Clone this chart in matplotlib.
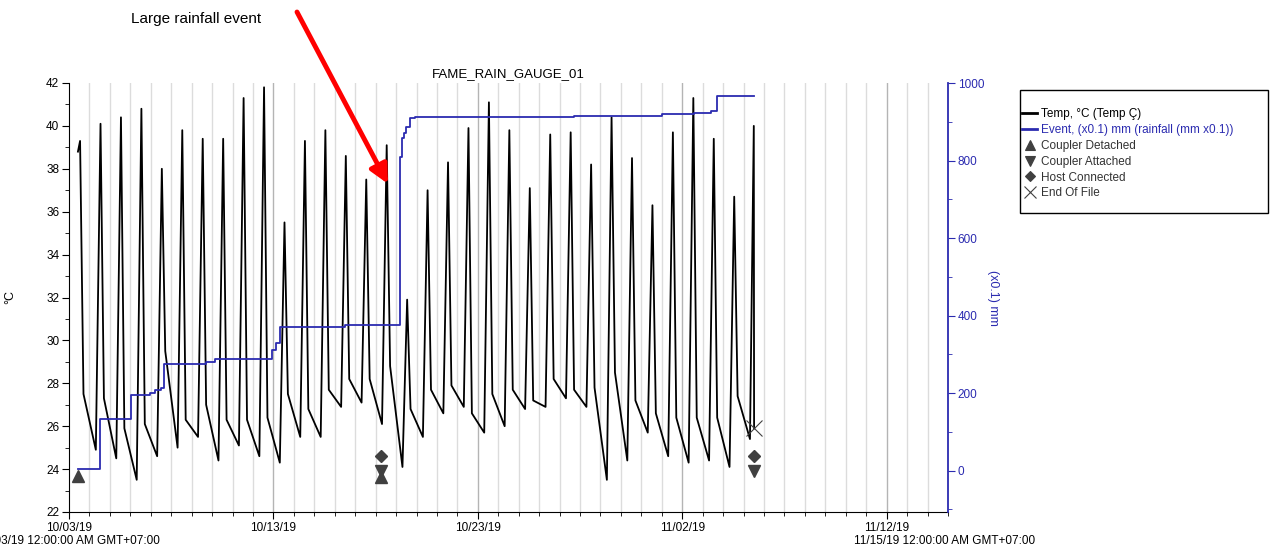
import matplotlib
matplotlib.use('Agg')
import matplotlib.pyplot as plt
import matplotlib.dates as mdates
from matplotlib.lines import Line2D
from matplotlib.patches import Rectangle
import pandas as pd

plt.rcParams['font.family'] = ['Liberation Sans', 'DejaVu Sans']

BLUE = '#2b2bb0'
MARK = '#404040'

# temperature (deg C)
first_time, first_temp = '2019-10-03 10:30', 38.8
day_peak = [39.3, 40.1, 40.4, 40.8, 38.0, 39.8, 39.4, 39.4, 41.3, 41.8,
            35.5, 39.3, 39.8, 38.6, 37.5, 39.1, 31.9, 37.0, 38.3, 39.9,
            41.1, 39.8, 37.1, 39.6, 39.7, 38.2, 40.4, 38.5, 36.3, 39.7,
            41.3, 39.4, 36.7, 40.0]
eve_temp = [27.5, 27.3, 25.9, 26.1, 29.5, 26.3, 27.0, 26.3, 26.3, 26.4,
            27.5, 26.8, 27.7, 28.2, 28.2, 28.8, 26.8, 27.7, 27.9, 26.6,
            27.5, 27.7, 27.2, 28.2, 27.7, 27.8, 28.5, 27.2, 26.6, 26.4,
            26.4, 26.4, 27.4]
morning_low = [24.9, 24.5, 23.5, 24.6, 25.0, 25.5, 24.4, 25.1, 24.6, 24.3,
               25.5, 25.5, 26.9, 27.1, 26.1, 24.1, 25.5, 26.6, 26.9, 25.7,
               26.0, 26.8, 26.9, 27.3, 26.9, 23.5, 24.4, 25.7, 24.6, 24.3,
               24.4, 24.1, 25.4]
last_time, last_temp = '2019-11-05 12:20', 25.9

# rainfall event count, cumulative (x0.1 mm)
rain_time = ['2019-10-03 10:30', '2019-10-04 12:30', '2019-10-06 00:45',
             '2019-10-06 23:00', '2019-10-07 05:00', '2019-10-07 12:00',
             '2019-10-07 15:30', '2019-10-09 17:00', '2019-10-10 03:30',
             '2019-10-12 22:00', '2019-10-13 03:00', '2019-10-13 07:45',
             '2019-10-16 12:00', '2019-10-19 04:30', '2019-10-19 06:30',
             '2019-10-19 09:00', '2019-10-19 12:00', '2019-10-19 16:00',
             '2019-10-19 22:00', '2019-10-27 17:00', '2019-11-01 00:00',
             '2019-11-02 14:00', '2019-11-03 09:30', '2019-11-03 16:30',
             '2019-11-05 12:20']
rain_total = [5, 134, 196, 201, 207, 214, 276, 280, 289, 310, 328, 370,
              375, 809, 858, 871, 886, 910, 913, 915, 920, 923, 927, 966,
              966]

# logger events
event_names = ['Coupler Detached', 'Host Connected', 'Coupler Attached',
               'Coupler Detached', 'End Of File', 'Host Connected',
               'Coupler Attached']
event_time = ['2019-10-03 10:30', '2019-10-18 06:20', '2019-10-18 06:20',
              '2019-10-18 06:20', '2019-11-05 12:20', '2019-11-05 12:20',
              '2019-11-05 12:20']
event_temp = [23.7, 24.6, 23.92, 23.62, 25.9, 24.6, 23.9]
event_marker = {'Coupler Detached': '^', 'Coupler Attached': 'v',
                'Host Connected': 'D', 'End Of File': 'x'}

# build the temperature trace
days = pd.date_range('2019-10-03', periods=len(day_peak), freq='D')
t_times = [pd.Timestamp(first_time)]
t_vals = [first_temp]
for i, day in enumerate(days):
    if i > 0:
        t_times.append(day + pd.Timedelta(hours=7.5))
        t_vals.append(morning_low[i - 1])
    if i < len(eve_temp):
        t_times.append(day + pd.Timedelta(hours=13))
        t_vals.append(day_peak[i])
        t_times.append(day + pd.Timedelta(hours=17))
        t_vals.append(eve_temp[i])
    else:
        t_times.append(day + pd.Timedelta(hours=12))
        t_vals.append(day_peak[i])
t_times.append(pd.Timestamp(last_time))
t_vals.append(last_temp)

fig = plt.figure(figsize=(12.72, 5.5), dpi=100)
ax = fig.add_axes([69 / 1272, 1 - 512 / 550, 879 / 1272, 429 / 550])
ax2 = ax.twinx()

x0 = pd.Timestamp('2019-10-03')
x1 = pd.Timestamp('2019-11-15')

# day grid
for d in pd.date_range(x0, x1, freq='D')[1:-1]:
    major = (d - x0).days % 10 == 0
    ax.axvline(d, color='#b4b4b4' if major else '#dcdcdc', lw=1, zorder=0)

ax.plot(t_times, t_vals, color='black', lw=1.3, zorder=3)
ax2.step(pd.to_datetime(rain_time), rain_total, where='post', color=BLUE, lw=1.3)

for name, t, v in zip(event_names, event_time, event_temp):
    m = event_marker[name]
    ax.plot(pd.Timestamp(t), v, ls='none', marker=m, color=MARK,
            ms=11 if m == 'x' else (6 if m == 'D' else 8),
            mew=0.8 if m == 'x' else 1, zorder=4)

ax.set_xlim(x0, x1)
ax.set_ylim(22, 42)
ax2.set_ylim(-107, 1000)

major_days = [pd.Timestamp(s) for s in ['2019-10-03', '2019-10-13', '2019-10-23',
                                        '2019-11-02', '2019-11-12']]
ax.set_xticks(major_days)
ax.set_xticklabels([d.strftime('%m/%d/%y') for d in major_days])
ax.xaxis.set_minor_locator(mdates.DayLocator())
ax.set_yticks(range(22, 43, 2))
ax.set_yticks(range(22, 43), minor=True)
ax2.set_yticks(range(0, 1001, 200))
ax2.set_yticks(range(-100, 1001, 100), minor=True)

for a in (ax, ax2):
    a.spines['top'].set_visible(False)
ax.spines['right'].set_visible(False)
ax2.spines['left'].set_visible(False)
ax2.spines['bottom'].set_visible(False)
ax2.spines['right'].set_color(BLUE)
ax2.spines['right'].set_linewidth(1.3)

ax.tick_params(axis='both', which='major', labelsize=8.5, length=5, pad=2)
ax.tick_params(axis='both', which='minor', length=3)
ax2.tick_params(axis='y', which='both', colors=BLUE, labelsize=8.5, pad=2)
ax2.tick_params(axis='y', which='major', length=5)
ax2.tick_params(axis='y', which='minor', length=3)

ax.set_ylabel('°C', fontsize=9)
ax.yaxis.set_label_coords(-0.06, 0.5)
ax2.set_ylabel('(x0.1) mm', fontsize=9, color=BLUE, rotation=270)
ax2.yaxis.set_label_coords(1.058, 0.5)

ax.set_title('FAME_RAIN_GAUGE_01', fontsize=9.5, pad=4)

fig.text(69 / 1272, 1 - 541 / 550, '10/03/19 12:00:00 AM GMT+07:00',
         ha='center', va='center', fontsize=8.5)
fig.text(945 / 1272, 1 - 541 / 550, '11/15/19 12:00:00 AM GMT+07:00',
         ha='center', va='center', fontsize=8.5)

# annotation
fig.text(196 / 1272, 1 - 19 / 550, 'Large rainfall event', ha='center',
         va='center', fontsize=11)
ax.annotate('', xy=(pd.Timestamp('2019-10-18 14:30'), 37.3),
            xytext=(297 / 1272, 1 - 12 / 550), textcoords='figure fraction',
            arrowprops=dict(arrowstyle='-|>', color='red', lw=3.5,
                            mutation_scale=28, shrinkA=0, shrinkB=0),
            annotation_clip=False)

# legend
fig.patches.append(Rectangle((1020 / 1272, 1 - 213 / 550), 248 / 1272, 123 / 550,
                             transform=fig.transFigure, fill=False,
                             edgecolor='black', lw=1))
handles = [Line2D([], [], color='black', lw=2),
           Line2D([], [], color=BLUE, lw=2)]
labels = ['Temp, °C (Temp Ç)', 'Event, (x0.1) mm (rainfall (mm x0.1))']
for name in ['Coupler Detached', 'Coupler Attached', 'Host Connected', 'End Of File']:
    m = event_marker[name]
    handles.append(Line2D([], [], ls='none', marker=m, color=MARK,
                          ms=9 if m == 'x' else (5 if m == 'D' else 7), mew=0.8))
    labels.append(name)
fig.legend(handles, labels, loc='upper left',
           bbox_to_anchor=(1022 / 1272, 1 - 108 / 550), frameon=False,
           fontsize=8.5, handlelength=1.3, handletextpad=0.3,
           labelspacing=0.33, borderpad=0, borderaxespad=0,
           labelcolor=['black', BLUE, '#333333', '#333333', '#333333', '#333333'])

fig.savefig('out.png', dpi=100)
